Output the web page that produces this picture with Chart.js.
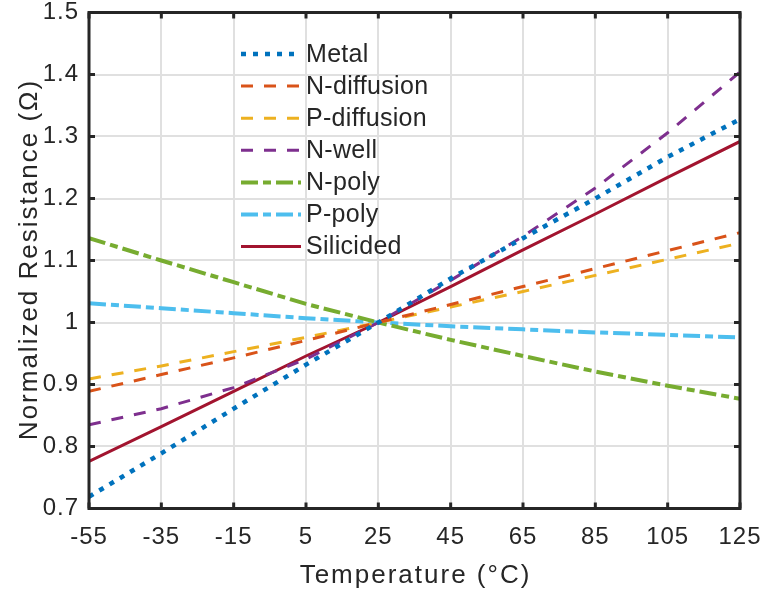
<!DOCTYPE html>
<html>
<head>
<meta charset="utf-8">
<script src="https://cdn.jsdelivr.net/npm/chart.js@4/dist/chart.umd.min.js"></script>
<style>
  html, body { margin: 0; padding: 0; background: #ffffff; }
  #wrap { width: 764px; height: 597px; position: relative; }
</style>
</head>
<body>
<div id="wrap"><canvas id="chart"></canvas></div>
<script>
// Temperature sweep (°C) and normalized resistance of each layer
const temperatures = [-55, -35, -15, 5, 25, 45, 65, 85, 105, 125];
const metal       = [0.719, 0.789, 0.861, 0.932, 1.000, 1.071, 1.136, 1.200, 1.267, 1.328];
const nDiffusion  = [0.889, 0.916, 0.943, 0.971, 1.000, 1.029, 1.058, 1.087, 1.116, 1.145];
const pDiffusion  = [0.909, 0.930, 0.953, 0.976, 1.000, 1.025, 1.050, 1.076, 1.102, 1.128];
const nWell       = [0.835, 0.861, 0.895, 0.941, 1.000, 1.068, 1.139, 1.217, 1.306, 1.404];
const nPoly       = [1.136, 1.100, 1.065, 1.030, 1.000, 0.972, 0.946, 0.921, 0.898, 0.877];
const pPoly       = [1.031, 1.023, 1.015, 1.007, 1.000, 0.994, 0.989, 0.984, 0.980, 0.976];
const silicided   = [0.776, 0.832, 0.889, 0.946, 1.000, 1.058, 1.117, 1.175, 1.234, 1.292];

const seriesNames = ['Metal', 'N-diffusion', 'P-diffusion', 'N-well', 'N-poly', 'P-poly', 'Silicided'];
const seriesValues = [metal, nDiffusion, pDiffusion, nWell, nPoly, pPoly, silicided];

const xTickValues = [-55, -35, -15, 5, 25, 45, 65, 85, 105, 125];
const yTickValues = [0.7, 0.8, 0.9, 1.0, 1.1, 1.2, 1.3, 1.4, 1.5];

const xTitle = 'Temperature (°C)';
const yTitle = 'Normalized Resistance (Ω)';

// Line appearance per series
const styles = [
  { color: '#0072BD', width: 4.5, dash: [5, 7] },
  { color: '#D95319', width: 3,   dash: [12, 11] },
  { color: '#EDB120', width: 3,   dash: [12, 11] },
  { color: '#7E2F8E', width: 3,   dash: [12, 11] },
  { color: '#77AC30', width: 4,   dash: [17, 5, 8, 5] },
  { color: '#4DBEEE', width: 4,   dash: [17, 5, 8, 5] },
  { color: '#A2142F', width: 3,   dash: [] }
];

const FONT = "'Liberation Sans', Arial, Helvetica, sans-serif";
const INK = '#262626';

const datasets = seriesNames.map((name, i) => ({
  label: name,
  data: temperatures.map((t, k) => ({ x: t, y: seriesValues[i][k] })),
  borderColor: styles[i].color,
  backgroundColor: styles[i].color,
  borderWidth: styles[i].width,
  borderDash: styles[i].dash,
  borderCapStyle: 'butt',
  pointRadius: 0,
  tension: 0,
  fill: false
}));

// Box frame with inward tick marks on all four sides
const framePlugin = {
  id: 'frame',
  beforeDraw(chart) {
    chart.ctx.letterSpacing = '1px';
  },
  afterDatasetsDraw(chart) {
    const { ctx, chartArea: a, scales } = chart;
    ctx.save();
    ctx.strokeStyle = INK;
    ctx.lineWidth = 3;
    ctx.beginPath();
    const tl = 6;
    xTickValues.forEach(v => {
      const px = scales.x.getPixelForValue(v);
      ctx.moveTo(px, a.bottom); ctx.lineTo(px, a.bottom - tl);
      ctx.moveTo(px, a.top); ctx.lineTo(px, a.top + tl);
    });
    yTickValues.forEach(v => {
      const py = scales.y.getPixelForValue(v);
      ctx.moveTo(a.left, py); ctx.lineTo(a.left + tl, py);
      ctx.moveTo(a.right, py); ctx.lineTo(a.right - tl, py);
    });
    ctx.stroke();
    ctx.strokeRect(a.left, a.top, a.right - a.left, a.bottom - a.top);
    ctx.restore();
  }
};

// Legend inside the plot, built from the datasets
const insideLegend = {
  id: 'insideLegend',
  afterDraw(chart) {
    const ctx = chart.ctx;
    const x0 = 241, x1 = 301, tx = 306, y0 = 54, dy = 32.1;
    ctx.save();
    ctx.font = `25px ${FONT}`;
    ctx.letterSpacing = '0.3px';
    ctx.textBaseline = 'middle';
    ctx.textAlign = 'left';
    chart.data.datasets.forEach((ds, i) => {
      const y = y0 + i * dy;
      ctx.strokeStyle = ds.borderColor;
      ctx.lineWidth = ds.borderWidth;
      ctx.setLineDash(ds.borderDash || []);
      ctx.lineCap = 'butt';
      ctx.beginPath();
      ctx.moveTo(x0, y); ctx.lineTo(x1, y);
      ctx.stroke();
      ctx.setLineDash([]);
      ctx.fillStyle = INK;
      ctx.fillText(ds.label, tx, y + 1);
    });
    ctx.restore();
  }
};

// Axis titles
const axisTitles = {
  id: 'axisTitles',
  afterDraw(chart) {
    const { ctx, chartArea: a } = chart;
    ctx.save();
    ctx.font = `26px ${FONT}`;
    ctx.letterSpacing = '2px';
    ctx.fillStyle = INK;
    ctx.textAlign = 'center';
    ctx.textBaseline = 'alphabetic';
    ctx.fillText(xTitle, (a.left + a.right) / 2 + 1, 583);
    ctx.translate(37, (a.top + a.bottom) / 2);
    ctx.rotate(-Math.PI / 2);
    ctx.fillText(yTitle, 1, 0);
    ctx.restore();
  }
};

new Chart(document.getElementById('chart'), {
  type: 'line',
  data: { datasets },
  options: {
    responsive: true,
    maintainAspectRatio: false,
    animation: false,
    layout: { padding: { top: 12.5, right: 24, left: 0, bottom: 0 } },
    plugins: {
      legend: { display: false },
      tooltip: { enabled: false }
    },
    scales: {
      x: {
        type: 'linear',
        min: -55,
        max: 125,
        afterBuildTicks: s => { s.ticks = xTickValues.map(v => ({ value: v })); },
        afterFit: s => {
          s.height = 88.5;
          s.paddingLeft = 0; s.paddingRight = 0;
        },
        grid: { color: '#e0e0e0', lineWidth: 2, drawTicks: false },
        border: { display: false },
        ticks: {
          padding: 14,
          maxRotation: 0,
          autoSkip: false,
          color: INK,
          font: { family: FONT, size: 24 },
          callback: v => String(v)
        }
      },
      y: {
        type: 'linear',
        min: 0.7,
        max: 1.5,
        afterBuildTicks: s => { s.ticks = yTickValues.map(v => ({ value: v })); },
        afterFit: s => {
          s.width = 89;
          s.paddingTop = 0; s.paddingBottom = 0;
        },
        grid: { color: '#e0e0e0', lineWidth: 2, drawTicks: false },
        border: { display: false },
        ticks: {
          padding: 10,
          autoSkip: false,
          color: INK,
          font: { family: FONT, size: 24 },
          callback: v => String(Math.round(v * 10) / 10)
        }
      }
    }
  },
  plugins: [framePlugin, insideLegend, axisTitles]
});
</script>
</body>
</html>
